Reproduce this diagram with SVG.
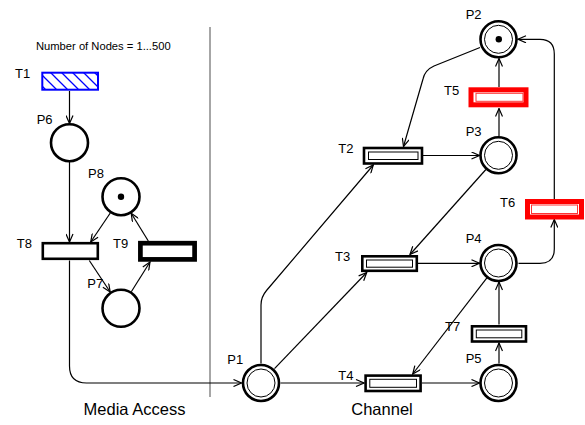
<svg xmlns="http://www.w3.org/2000/svg" width="585" height="425" viewBox="0 0 585 425">
<defs>
<style>
text{font-family:"Liberation Sans",Arial,sans-serif;fill:#000}
.lbl{font-size:13px}
.cap{font-size:16.5px}
.arc{fill:none;stroke:#000;stroke-width:1.2;marker-end:url(#a)}
.pl{fill:#fff;stroke:#000;stroke-width:2.6}
.pin{fill:none;stroke:#000;stroke-width:1}
.tr{fill:#fff;stroke:#000;stroke-width:2.6}
.tin{fill:#fff;stroke:#000;stroke-width:1}
.tred{fill:#fff;stroke:#f00;stroke-width:5}
.tredin{fill:#fff;stroke:#f33;stroke-width:1}
.tok{fill:#000}
</style>
<marker id="a" markerWidth="10" markerHeight="8" refX="9" refY="4" orient="auto" markerUnits="userSpaceOnUse" viewBox="0 0 10 8">
<path d="M1,0.5 L9,4 L1,7.5" fill="none" stroke="#000" stroke-width="1.2"/>
</marker>
<pattern id="hatch" patternUnits="userSpaceOnUse" width="11" height="11">
<path d="M0,0 L11,11 M-5.5,5.5 L5.5,16.5 M5.5,-5.5 L16.5,5.5" stroke="#00f" stroke-width="1.3"/>
</pattern>
</defs>
<rect width="585" height="425" fill="#fff"/>

<line x1="210" y1="27" x2="210" y2="397" stroke="#888" stroke-width="1.5"/>
<text x="36" y="50" font-size="11.2">Number of Nodes = 1...500</text>
<text class="cap" x="134.5" y="415" text-anchor="middle">Media Access</text>
<text class="cap" x="382" y="415" text-anchor="middle">Channel</text>

<g id="connectors">
<path class="arc" d="M69.5,91 L69.5,123.5"/>
<path class="arc" d="M69.5,162 L69.5,242"/>
<path class="arc" d="M110.3,213 L90.7,242"/>
<path class="arc" d="M148.3,241 L131.2,213.3"/>
<path class="arc" d="M89.3,260.5 L110.2,292"/>
<path class="arc" d="M131.3,291.7 L150,262"/>
<path class="arc" d="M69.5,260.5 L69.5,366 Q69.5,383 86.5,383 L241.5,383"/>
<path class="arc" d="M480,47.5 L434,66 Q425,70 423,79 L403.5,146.5"/>
<path class="arc" d="M422,155.5 L479.5,155.5"/>
<path class="arc" d="M499,136 L499,108.5"/>
<path class="arc" d="M499,87 L499,58.5"/>
<path class="arc" d="M554.3,199 L554.3,54 Q554.3,39.3 540,39.3 L518,39.3"/>
<path class="arc" d="M485.9,169.5 L410,254.5"/>
<path class="arc" d="M417,263.3 L479.5,263.3"/>
<path class="arc" d="M518.5,263.3 L540,263.3 Q554.3,263.3 554.3,249 L554.3,219.5"/>
<path class="arc" d="M274.5,368.6 L366.7,272.5"/>
<path class="arc" d="M261,363.5 L261,305 Q261,297 266.5,290.5 L373.3,165"/>
<path class="arc" d="M280.5,383 L364,383"/>
<path class="arc" d="M422,383 L479.5,383"/>
<path class="arc" d="M499,363.5 L499,343"/>
<path class="arc" d="M499,324.5 L499,282"/>
<path class="arc" d="M487.1,277.7 L412.7,374"/>
</g>

<g id="T1">
<rect x="42.3" y="72.7" width="55.7" height="17" fill="url(#hatch)" stroke="#00f" stroke-width="2"/>
<text class="lbl" x="15" y="78">T1</text>
</g>
<g id="P6">
<circle class="pl" cx="69.5" cy="142.7" r="18.5"/>
<text class="lbl" x="36.7" y="124">P6</text>
</g>
<g id="P8">
<circle class="pl" cx="121" cy="196.7" r="18.5"/>
<circle class="tok" cx="121" cy="196.7" r="3.2"/>
<text class="lbl" x="88" y="178">P8</text>
</g>
<g id="T8">
<rect class="tr" x="42.8" y="243.2" width="55" height="15.6"/>
<text class="lbl" x="16.7" y="248">T8</text>
</g>
<g id="T9">
<rect x="140.4" y="243.2" width="54.2" height="16.2" fill="#fff" stroke="#000" stroke-width="4.7"/>
<text class="lbl" x="113" y="248">T9</text>
</g>
<g id="P7">
<circle class="pl" cx="121" cy="308.3" r="18.5"/>
<text class="lbl" x="87.3" y="288.3">P7</text>
</g>

<g id="P2">
<circle class="pl" cx="498.5" cy="39.3" r="18" stroke-width="3"/>
<circle class="pin" cx="498.5" cy="39.3" r="14"/>
<circle class="tok" cx="498.8" cy="39.3" r="3.2"/>
<text class="lbl" x="465.7" y="19.3">P2</text>
</g>
<g id="T5">
<rect class="tred" x="471" y="89.8" width="55" height="15"/>
<rect class="tredin" x="476" y="93.3" width="47" height="8"/>
<text class="lbl" x="444" y="95">T5</text>
</g>
<g id="P3">
<circle class="pl" cx="498.5" cy="155.3" r="18" stroke-width="3"/>
<circle class="pin" cx="498.5" cy="155.3" r="14"/>
<text class="lbl" x="465.7" y="136">P3</text>
</g>
<g id="T2">
<rect class="tr" x="364" y="148" width="58" height="15.5"/>
<rect class="tin" x="368.5" y="152" width="49.5" height="7.5"/>
<text class="lbl" x="338.3" y="152.7">T2</text>
</g>
<g id="T6">
<rect class="tred" x="527.5" y="201.5" width="54" height="15.5"/>
<rect class="tredin" x="531.5" y="205" width="46" height="8.5"/>
<text class="lbl" x="500" y="207">T6</text>
</g>
<g id="P4">
<circle class="pl" cx="498.5" cy="263" r="18" stroke-width="3"/>
<circle class="pin" cx="498.5" cy="263" r="14"/>
<text class="lbl" x="465.7" y="243.3">P4</text>
</g>
<g id="T3">
<rect class="tr" x="362.3" y="256.3" width="54.5" height="14.5"/>
<rect class="tin" x="366.5" y="260" width="46" height="7.2"/>
<text class="lbl" x="335" y="261">T3</text>
</g>
<g id="P1">
<circle class="pl" cx="261" cy="383" r="18" stroke-width="3"/>
<circle class="pin" cx="261" cy="383" r="14"/>
<text class="lbl" x="227.3" y="364.3">P1</text>
</g>
<g id="T4">
<rect class="tr" x="365.6" y="375.6" width="55" height="15.4"/>
<rect class="tin" x="369.8" y="379.3" width="46.7" height="8"/>
<text class="lbl" x="338.3" y="380">T4</text>
</g>
<g id="P5">
<circle class="pl" cx="498.5" cy="383" r="18" stroke-width="3"/>
<circle class="pin" cx="498.5" cy="383" r="14"/>
<text class="lbl" x="465.7" y="363.3">P5</text>
</g>
<g id="T7">
<rect class="tr" x="472" y="326.3" width="54" height="15.2"/>
<rect class="tin" x="476.3" y="330" width="45.5" height="7.8"/>
<text class="lbl" x="445" y="330.7">T7</text>
</g>
</svg>
